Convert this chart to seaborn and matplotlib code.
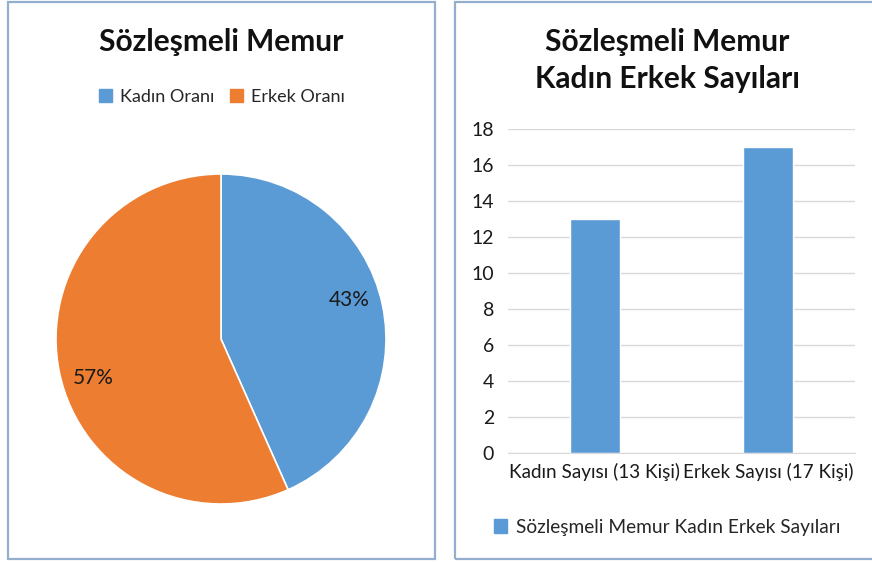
import matplotlib
matplotlib.use("Agg")
import matplotlib.pyplot as plt
import matplotlib.patches as mpatches
import seaborn as sns
import pandas as pd
import numpy as np

# Veriler
pie_labels = ["Kadın Oranı", "Erkek Oranı"]
pie_values = [13, 17]
bar_categories = ["Kadın Sayısı (13 Kişi)", "Erkek Sayısı (17 Kişi)"]
bar_values = [13, 17]
bar_series = "Sözleşmeli Memur Kadın Erkek Sayıları"
y_ticks = [0, 2, 4, 6, 8, 10, 12, 14, 16, 18]

blue = "#5B9BD5"
orange = "#ED7D31"
border = "#94AECF"

sns.set_style("white")
plt.rcParams["font.family"] = ["Lato", "DejaVu Sans"]

W, H = 872, 562
fig = plt.figure(figsize=(W / 100, H / 100), dpi=100)

def fx(px):
    return px / W

def fy(py):
    return 1 - py / H

# Çerçeveler
fig.patches.append(mpatches.Rectangle((fx(8), fy(559)), fx(427), (557) / H,
                                      transform=fig.transFigure, fill=False,
                                      edgecolor=border, linewidth=1.6))
fig.patches.append(mpatches.Rectangle((fx(455), fy(559)), fx(430), (557) / H,
                                      transform=fig.transFigure, fill=False,
                                      edgecolor=border, linewidth=1.6))

# 1. Pasta grafiği
ax1 = fig.add_axes([fx(56), fy(504), fx(330), 330 / H])
wedges, texts, autotexts = ax1.pie(pie_values, colors=[blue, orange], startangle=90,
                                   counterclock=False, autopct="%.0f%%", pctdistance=0.81,
                                   wedgeprops=dict(edgecolor="white", linewidth=1.2),
                                   textprops=dict(fontsize=15, color="#1a1a1a"))
ax1.set_xlim(-1, 1)
ax1.set_ylim(-1, 1)
for w, t in zip(wedges, autotexts):
    w.set_clip_on(False)
    # Excel etiketleri biraz daha yukarı kaydırıyor
    ang = np.deg2rad((w.theta1 + w.theta2) / 2 + 5)
    t.set_position((0.81 * np.cos(ang), 0.81 * np.sin(ang)))

fig.text(fx(221), fy(42), "Sözleşmeli Memur", ha="center", va="center",
         fontsize=21.5, fontweight="bold", color="#111111")
handles = [mpatches.Patch(color=c, label=l) for c, l in zip([blue, orange], pie_labels)]
fig.legend(handles=handles, loc="center", bbox_to_anchor=(fx(222), fy(97)), ncol=2,
           frameon=False, fontsize=13, handlelength=0.7, handleheight=0.7,
           handletextpad=0.45, columnspacing=0.9)

# 2. Çubuk grafiği
df = pd.DataFrame({"kategori": bar_categories, "sayi": bar_values})
ax2 = fig.add_axes([fx(508), fy(453), fx(347), 324 / H])
sns.barplot(data=df, x="kategori", y="sayi", color=blue, width=0.29,
            saturation=1, ax=ax2)
ax2.set_xlim(-0.5, 1.5)
ax2.set_ylim(0, 18)
ax2.set_yticks(y_ticks)
ax2.yaxis.grid(True, color="#D9D9D9", linewidth=1)
ax2.set_axisbelow(True)
for s in ["top", "right", "left"]:
    ax2.spines[s].set_visible(False)
ax2.spines["bottom"].set_color("#D9D9D9")
ax2.set_xlabel("")
ax2.set_ylabel("")
ax2.tick_params(axis="y", length=0, pad=10, labelsize=14, labelcolor="#1a1a1a")
ax2.tick_params(axis="x", length=0, pad=7, labelsize=13.6, labelcolor="#1a1a1a")
ax2.set_xticks([-0.5, 0.5, 1.5], minor=True)
ax2.tick_params(axis="x", which="minor", length=5, color="#D9D9D9", direction="out")

fig.text(fx(667), fy(42), "Sözleşmeli Memur", ha="center", va="center",
         fontsize=21.5, fontweight="bold", color="#111111")
fig.text(fx(667), fy(79), "Kadın Erkek Sayıları", ha="center", va="center",
         fontsize=21.5, fontweight="bold", color="#111111")
fig.legend(handles=[mpatches.Patch(color=blue, label=bar_series)], loc="center",
           bbox_to_anchor=(fx(667), fy(527)), frameon=False, fontsize=13.8,
           handlelength=0.7, handleheight=0.7, handletextpad=0.45)

fig.savefig("out.png", dpi=100)
